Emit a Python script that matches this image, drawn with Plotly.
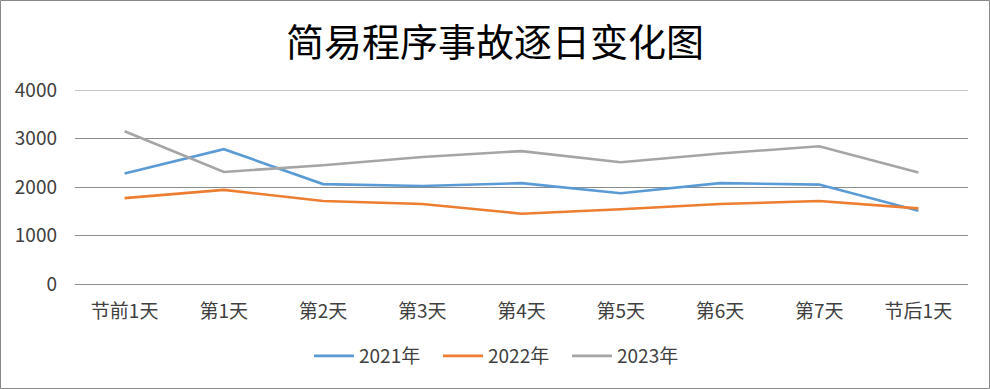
import plotly.graph_objects as go

categories = ["节前1天", "第1天", "第2天", "第3天", "第4天", "第5天", "第6天", "第7天", "节后1天"]
series_names = ["2021年", "2022年", "2023年"]
values_2021 = [2280, 2780, 2060, 2020, 2080, 1870, 2080, 2050, 1510]
values_2022 = [1770, 1940, 1710, 1650, 1450, 1540, 1650, 1710, 1560]
values_2023 = [3150, 2310, 2450, 2620, 2740, 2510, 2690, 2840, 2300]
y_ticks = [0, 1000, 2000, 3000, 4000]
colors = ["#5B9BD5", "#ED7D31", "#A5A5A5"]

W, H = 990, 389
L, R, T, B = 75, 22, 90, 105

fig = go.Figure()
for name, vals, c in zip(series_names, [values_2021, values_2022, values_2023], colors):
    fig.add_trace(go.Scatter(x=categories, y=vals, name=name, mode="lines",
                             line=dict(color=c, width=2.6)))

pw = W - L - R
ph = H - T - B
fig.add_shape(type="rect", xref="paper", yref="paper",
              x0=(0.5 - L) / pw, x1=(W - 0.5 - L) / pw,
              y0=-(B - 0.5) / ph, y1=1 + (T - 0.5) / ph,
              line=dict(color="#888888", width=1), layer="below")
fig.add_shape(type="line", xref="paper", yref="y", x0=0, x1=1,
              y0=y_ticks[-1], y1=y_ticks[-1],
              line=dict(color="#8C8C8C", width=1), layer="below")

font = "Noto Sans CJK SC, Noto Sans, sans-serif"
fig.update_layout(
    width=W, height=H,
    margin=dict(l=L, r=R, t=T, b=B),
    paper_bgcolor="white", plot_bgcolor="white",
    title=dict(text="简易程序事故逐日变化图", x=0.5, xref="container", xanchor="center",
               y=1 - 43 / H, yanchor="middle",
               font=dict(family=font, size=38, color="#000000")),
    font=dict(family=font, size=19, color="#404040"),
    xaxis=dict(showgrid=False, showline=False, ticks="", range=[-0.5, 8.5],
               ticklabelstandoff=14,
               tickfont=dict(size=19, color="#404040")),
    yaxis=dict(range=[0, 4000], tickvals=y_ticks, showgrid=True, gridcolor="#8C8C8C",
               gridwidth=1, zeroline=True, zerolinecolor="#8C8C8C", zerolinewidth=1,
               showline=False, ticks="", ticklen=0, ticklabelstandoff=17,
               tickfont=dict(size=19, color="#404040")),
    legend=dict(orientation="h", x=(309 - L) / pw, xanchor="left", y=-(356 - T - ph) / ph,
                yanchor="middle", font=dict(size=19, color="#404040"),
                traceorder="normal", itemwidth=40,
                entrywidth=74, entrywidthmode="pixels"),
    showlegend=True,
)
fig.write_html("out.html", config={"displayModeBar": False},
               post_script="document.body.style.margin='0';")
